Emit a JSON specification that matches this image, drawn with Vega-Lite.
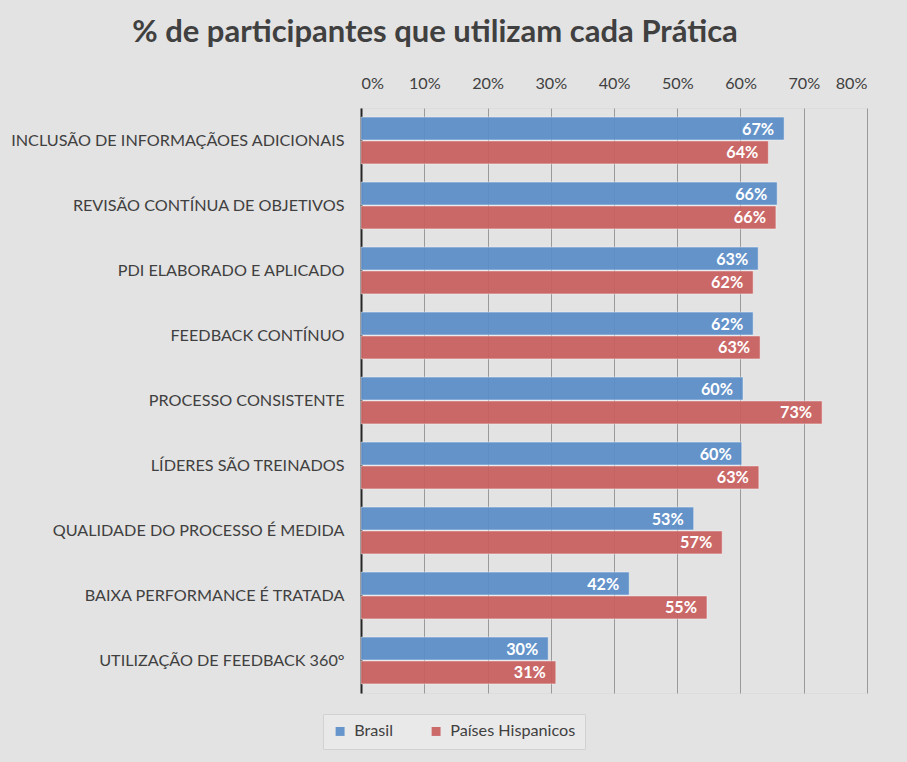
{
  "$schema": "https://vega.github.io/schema/vega-lite/v6.json",
  "width": 506,
  "height": 585,
  "autosize": "none",
  "padding": {"left": 361, "top": 108, "right": 40, "bottom": 69},
  "background": "#e3e3e3",
  "title": {
    "text": "% de participantes que utilizam cada Prática",
    "font": "Lato",
    "fontSize": 31,
    "fontWeight": "bold",
    "color": "#404040",
    "anchor": "middle",
    "frame": "group",
    "dx": -179,
    "offset": 26
  },
  "data": {
    "values": [
      {"pratica": "INCLUSÃO DE INFORMAÇÃOES ADICIONAIS", "serie": "Brasil", "valor": 0.669},
      {"pratica": "INCLUSÃO DE INFORMAÇÃOES ADICIONAIS", "serie": "Países Hispanicos", "valor": 0.644},
      {"pratica": "REVISÃO CONTÍNUA DE OBJETIVOS", "serie": "Brasil", "valor": 0.658},
      {"pratica": "REVISÃO CONTÍNUA DE OBJETIVOS", "serie": "Países Hispanicos", "valor": 0.656},
      {"pratica": "PDI ELABORADO E APLICADO", "serie": "Brasil", "valor": 0.628},
      {"pratica": "PDI ELABORADO E APLICADO", "serie": "Países Hispanicos", "valor": 0.62},
      {"pratica": "FEEDBACK CONTÍNUO", "serie": "Brasil", "valor": 0.62},
      {"pratica": "FEEDBACK CONTÍNUO", "serie": "Países Hispanicos", "valor": 0.631},
      {"pratica": "PROCESSO CONSISTENTE", "serie": "Brasil", "valor": 0.604},
      {"pratica": "PROCESSO CONSISTENTE", "serie": "Países Hispanicos", "valor": 0.729},
      {"pratica": "LÍDERES SÃO TREINADOS", "serie": "Brasil", "valor": 0.602},
      {"pratica": "LÍDERES SÃO TREINADOS", "serie": "Países Hispanicos", "valor": 0.629},
      {"pratica": "QUALIDADE DO PROCESSO É MEDIDA", "serie": "Brasil", "valor": 0.526},
      {"pratica": "QUALIDADE DO PROCESSO É MEDIDA", "serie": "Países Hispanicos", "valor": 0.571},
      {"pratica": "BAIXA PERFORMANCE É TRATADA", "serie": "Brasil", "valor": 0.424},
      {"pratica": "BAIXA PERFORMANCE É TRATADA", "serie": "Países Hispanicos", "valor": 0.547},
      {"pratica": "UTILIZAÇÃO DE FEEDBACK 360°", "serie": "Brasil", "valor": 0.296},
      {"pratica": "UTILIZAÇÃO DE FEEDBACK 360°", "serie": "Países Hispanicos", "valor": 0.308}
    ]
  },
  "encoding": {
    "y": {
      "field": "pratica",
      "type": "nominal",
      "sort": null,
      "scale": {"paddingInner": 0.28, "paddingOuter": 0.14},
      "axis": {
        "title": null,
        "ticks": false,
        "domain": true,
        "domainColor": "#262626",
        "domainWidth": 2,
        "labelFont": "Lato",
        "labelFontSize": 16.2,
        "labelColor": "#404040",
        "labelPadding": 17,
        "labelLimit": 400
      }
    },
    "yOffset": {
      "field": "serie",
      "type": "nominal",
      "sort": ["Brasil", "Países Hispanicos"],
      "scale": {"paddingInner": 0.04}
    },
    "x": {
      "field": "valor",
      "type": "quantitative",
      "scale": {"domain": [0, 0.8], "nice": false},
      "axis": {
        "orient": "top",
        "title": null,
        "format": ".0%",
        "values": [0, 0.1, 0.2, 0.3, 0.4, 0.5, 0.6, 0.7, 0.8],
        "ticks": false,
        "domain": false,
        "grid": true,
        "gridColor": "#9a9a9a",
        "gridWidth": 1,
        "labelFont": "Lato",
        "labelFontSize": 16.2,
        "labelColor": "#404040",
        "labelPadding": 17
      }
    }
  },
  "layer": [
    {
      "mark": {"type": "bar", "opacity": 0.93, "stroke": "#ffffff", "strokeOpacity": 0.45, "strokeWidth": 1},
      "encoding": {
        "color": {
          "field": "serie",
          "type": "nominal",
          "sort": ["Brasil", "Países Hispanicos"],
          "scale": {"range": ["#5b8ec9", "#c95f5f"]},
          "legend": {
            "title": null,
            "orient": "none",
            "direction": "horizontal",
            "legendX": -38,
            "legendY": 606,
            "symbolType": "square",
            "symbolSize": 80,
            "symbolStrokeWidth": 0,
            "labelFont": "Lato",
            "labelFontSize": 16.2,
            "labelColor": "#404040",
            "columnPadding": 34,
            "labelOffset": 6,
            "fillColor": "#e9e9e9",
            "strokeColor": "#d2d2d2",
            "padding": 9
          }
        }
      }
    },
    {
      "mark": {"type": "text", "align": "right", "baseline": "middle", "dx": -10, "dy": 1, "font": "Lato", "fontSize": 16.2, "fontWeight": "bold", "color": "#ffffff"},
      "encoding": {
        "text": {"field": "valor", "type": "quantitative", "format": ".0%"}
      }
    }
  ]
}
